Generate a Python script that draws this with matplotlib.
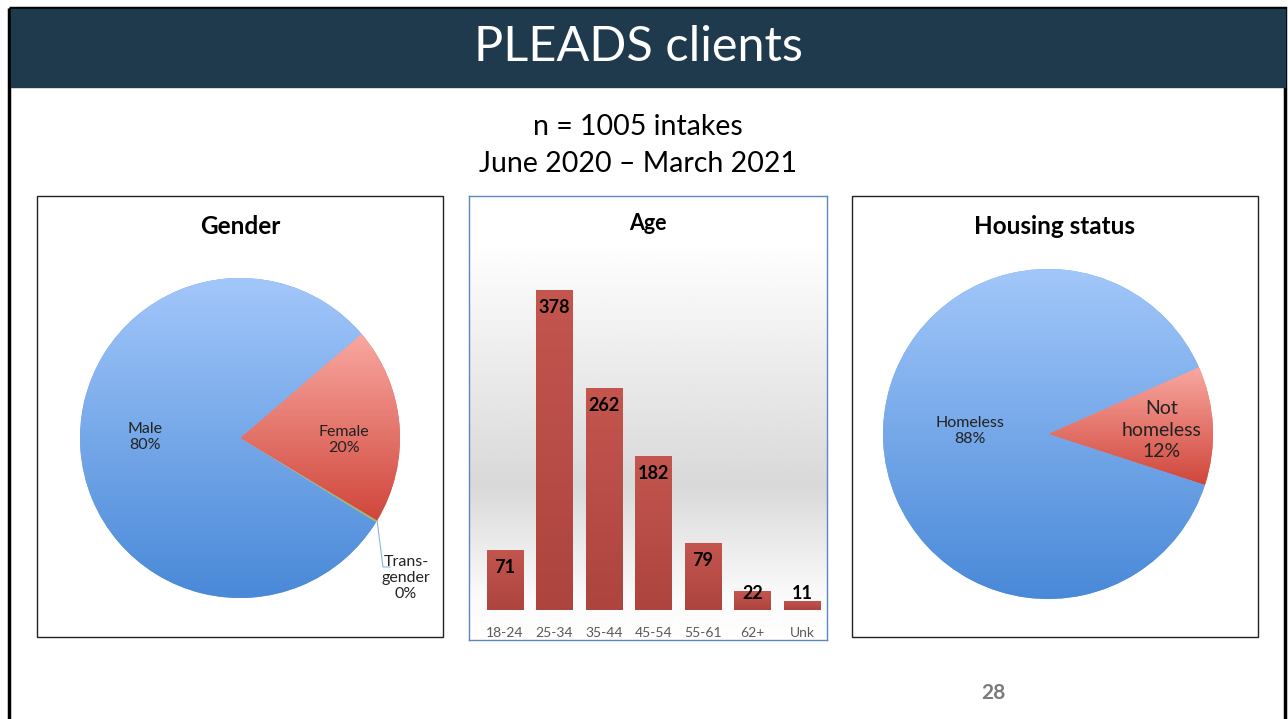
import numpy as np
import matplotlib
matplotlib.use("Agg")
import matplotlib.pyplot as plt
from matplotlib.colors import LinearSegmentedColormap
from matplotlib.patches import Rectangle

plt.rcParams['font.family'] = ['Lato', 'DejaVu Sans']

# data
gender_labels = ['Female', 'Trans-\ngender', 'Male']
gender_counts = [200, 2, 803]
gender_pct = ['20%', '0%', '80%']

age_groups = ['18-24', '25-34', '35-44', '45-54', '55-61', '62+', 'Unk']
age_counts = [71, 378, 262, 182, 79, 22, 11]

housing_labels = ['Not\nhomeless', 'Homeless']
housing_counts = [117, 888]
housing_pct = ['12%', '88%']

W, H = 1288, 719
fig = plt.figure(figsize=(W / 100, H / 100), dpi=100)


def px_axes(x0, y0, x1, y1, **kw):
    # rect in pixel coords (top-left origin)
    return fig.add_axes([x0 / W, 1 - y1 / H, (x1 - x0) / W, (y1 - y0) / H], **kw)


def ftext(x, y, s, **kw):
    # figure-level text so it sits on top of every axes
    kw.setdefault('ha', 'center')
    kw.setdefault('va', 'center')
    return fig.text(x / W, 1 - y / H, s, **kw)


blue_cmap = LinearSegmentedColormap.from_list('b', ['#4989d8', '#a2c7fa'])
red_cmap = LinearSegmentedColormap.from_list('r', ['#d0463b', '#f9a8a0'])
bar_cmap = LinearSegmentedColormap.from_list('bar', ['#ad443e', '#c4554f'])
grad = np.linspace(0, 1, 256).reshape(-1, 1)


def fill_gradient(ax, patch, cmap, ext):
    im = ax.imshow(grad, cmap=cmap, origin='lower', extent=ext,
                   aspect='auto', zorder=patch.get_zorder(), interpolation='bicubic')
    im.set_clip_path(patch)


def wedge_ext(w):
    t = np.radians(np.linspace(w.theta1, w.theta2, 100))
    xs = np.concatenate([[w.center[0]], w.center[0] + w.r * np.cos(t)])
    ys = np.concatenate([[w.center[1]], w.center[1] + w.r * np.sin(t)])
    return [xs.min(), xs.max(), ys.min(), ys.max()]


# slide frame
bg = fig.add_axes([0, 0, 1, 1])
bg.set_xlim(0, W)
bg.set_ylim(H, 0)
bg.axis('off')
bg.add_patch(Rectangle((9.5, 7.5), 1276, 740, fill=False, ec='black', lw=2.5))
bg.add_patch(Rectangle((11, 9), 1274, 78, color='#1f3a4d'))
bg.text(638, 47, 'PLEADS clients', color='white', fontsize=35, ha='center', va='center')
bg.text(638, 127, 'n = 1005 intakes', fontsize=20.5, ha='center', va='center')
bg.text(638, 164, 'June 2020 \u2013 March 2021', fontsize=20.5, ha='center', va='center')
bg.text(993, 693, '28', fontsize=15, color='#7a7a7a', fontweight='bold', ha='center', va='center')

# panel boxes
for (x0, y0, x1, y1) in [(37, 196, 443, 637), (852, 196, 1258, 637)]:
    bg.add_patch(Rectangle((x0, y0), x1 - x0, y1 - y0, fill=False, ec='#222222', lw=1))
bg.text(240, 226, 'Gender', fontsize=17.5, fontweight='bold', ha='center', va='center')
bg.text(1055, 226, 'Housing status', fontsize=17.5, fontweight='bold', ha='center', va='center')

# Gender pie
r = 160
ax1 = px_axes(240 - r, 438 - r, 240 + r, 438 + r)
wedges, _ = ax1.pie(gender_counts, startangle=40.6, counterclock=False,
                    colors=['#e8675d', '#9bbb59', '#6fa3e8'],
                    wedgeprops=dict(lw=0))
ax1.set_xlim(-1, 1)
ax1.set_ylim(-1, 1)
fill_gradient(ax1, wedges[0], red_cmap, wedge_ext(wedges[0]))
fill_gradient(ax1, wedges[2], blue_cmap, [-1, 1, -1, 1])
ax1.set_xlim(-1, 1)
ax1.set_ylim(-1, 1)
ax1.set_aspect('equal')
ax1.axis('off')
ftext(145, 437, gender_labels[2] + '\n' + gender_pct[2], fontsize=11.5, color='#222222')
ftext(344, 440, gender_labels[0] + '\n' + gender_pct[0], fontsize=11.5, color='#222222')
ftext(406, 578, gender_labels[1] + '\n' + gender_pct[1], fontsize=11.5, color='#222222', linespacing=1.2)
bg.plot([377, 383, 390], [520, 567, 567], color='#8db3e2', lw=0.8)

# Housing pie
r2 = 165
ax3 = px_axes(1048 - r2, 434 - r2, 1048 + r2, 434 + r2)
wedges3, _ = ax3.pie(housing_counts, startangle=23.9, counterclock=False,
                     colors=['#e8675d', '#6fa3e8'], wedgeprops=dict(lw=0))
ax3.set_xlim(-1, 1)
ax3.set_ylim(-1, 1)
fill_gradient(ax3, wedges3[0], red_cmap, wedge_ext(wedges3[0]))
fill_gradient(ax3, wedges3[1], blue_cmap, [-1, 1, -1, 1])
ax3.set_xlim(-1, 1)
ax3.set_ylim(-1, 1)
ax3.set_aspect('equal')
ax3.axis('off')
ftext(970, 431, housing_labels[1] + '\n' + housing_pct[1], fontsize=11.5, color='#222222')
ftext(1162, 430, housing_labels[0] + '\n' + housing_pct[0], fontsize=14, color='#222222', linespacing=1.3)

# Age panel background
axbg = px_axes(469, 196, 827, 640)
axbg.imshow(np.interp(np.linspace(0, 1, 256), [0, 0.1, 0.65, 0.9, 1],
                      [1, 1, 0.85, 0.98, 1]).reshape(-1, 1),
            cmap='gray', vmin=0, vmax=1, aspect='auto', extent=[0, 1, 0, 1],
            interpolation='bicubic')
axbg.set_xticks([])
axbg.set_yticks([])
for s in axbg.spines.values():
    s.set_color('#5b87c1')
    s.set_linewidth(1)
axbg.text(0.5, 1 - 28 / 444, 'Age', fontsize=15.5, fontweight='bold', ha='center', va='center',
          transform=axbg.transAxes)

ax2 = px_axes(480.25, 271.4, 826.75, 610)
ax2.patch.set_alpha(0)
x = np.arange(len(age_groups))
bars = ax2.bar(x, age_counts, width=0.73, color='#bd4f49')
ax2.set_xlim(-0.5, len(age_groups) - 0.5)
ax2.set_ylim(0, 400)
for b in bars:
    fill_gradient(ax2, b, bar_cmap, [b.get_x(), b.get_x() + b.get_width(), 0, b.get_height()])
ax2.set_xlim(-0.5, len(age_groups) - 0.5)
ax2.set_ylim(0, 400)
for xi, v in zip(x, age_counts):
    ax2.text(xi, max(v - 21, 19), str(v), fontsize=13, fontweight='bold', ha='center', va='center', zorder=5)
ax2.set_xticks(x)
ax2.set_xticklabels(age_groups, fontsize=10, color='#595959')
ax2.tick_params(axis='x', length=0, pad=12)
ax2.set_yticks([])
for s in ax2.spines.values():
    s.set_visible(False)

fig.savefig('out.png', dpi=100)
